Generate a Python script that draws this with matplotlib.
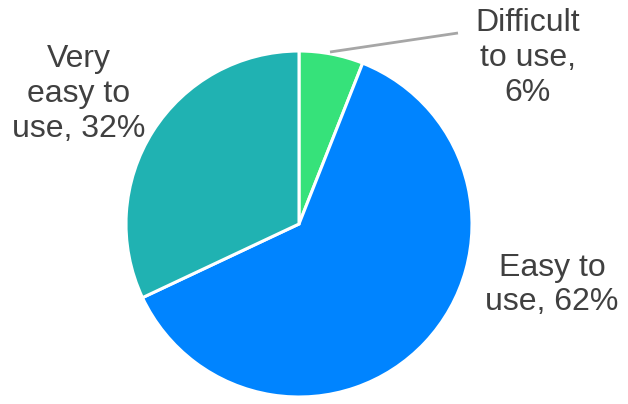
import matplotlib
matplotlib.use("Agg")
import matplotlib.pyplot as plt

categories = ["Difficult to use", "Easy to use", "Very easy to use"]
shares = [6, 62, 32]
colors = ["#36E27A", "#0084FF", "#20B2B2"]
label_lines = ["Difficult\nto use,\n{}%", "Easy to\nuse, {}%", "Very\neasy to\nuse, {}%"]

W, H = 628, 404
fig = plt.figure(figsize=(W / 100, H / 100), dpi=100)
ax = fig.add_axes([0, 0, 1, 1])

cx, cy, r = 299, H - 224, 173
ax.pie(shares, colors=colors, startangle=90, counterclock=False,
       center=(cx, cy), radius=r, frame=True,
       wedgeprops=dict(edgecolor="white", linewidth=2.2))
ax.set_xlim(0, W)
ax.set_ylim(0, H)
ax.set_aspect("equal")
ax.axis("off")

font = dict(family=["Liberation Sans", "DejaVu Sans"], size=23, color="#404040",
            ha="center", va="center", linespacing=1.2)
ax.text(528, H - 58, label_lines[0].format(shares[0]), **font)
ax.text(552, H - 285, label_lines[1].format(shares[1]), **font)
ax.text(79, H - 94, label_lines[2].format(shares[2]), **font)

# leader line for the small slice
ax.plot([330, 458], [H - 52, H - 33], color="#A6A6A6", lw=2, solid_capstyle="butt")

fig.savefig("out.png", dpi=100)
